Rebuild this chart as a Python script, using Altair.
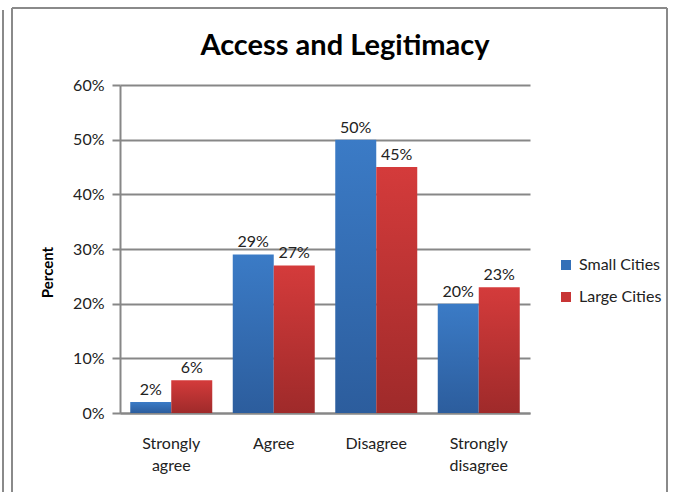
import altair as alt
import pandas as pd

# Survey responses by city size
categories = ["Strongly agree", "Agree", "Disagree", "Strongly disagree"]
series = ["Small Cities", "Large Cities"]
small_cities = [2, 29, 50, 20]
large_cities = [6, 27, 45, 23]
y_ticks = [0, 0.1, 0.2, 0.3, 0.4, 0.5, 0.6]
chart_title = "Access and Legitimacy"

rows = []
for cat, s, l in zip(categories, small_cities, large_cities):
    rows.append({"category": cat, "series": "Small Cities", "value": s / 100})
    rows.append({"category": cat, "series": "Large Cities", "value": l / 100})
df = pd.DataFrame(rows)

FONT = "Lato"
GRAY = "#878787"
TEXT = "#222222"
FS = 16

blue_fill = {
    "gradient": "linear", "x1": 0, "y1": 0, "x2": 0, "y2": 1,
    "stops": [{"offset": 0, "color": "#3b7bc6"}, {"offset": 1, "color": "#2c5d9d"}],
}
red_fill = {
    "gradient": "linear", "x1": 0, "y1": 0, "x2": 0, "y2": 1,
    "stops": [{"offset": 0, "color": "#d43b3b"}, {"offset": 1, "color": "#9f2a2a"}],
}

base = alt.Chart(df).encode(
    x=alt.X(
        "category:N",
        sort=categories,
        scale=alt.Scale(paddingInner=0.2, paddingOuter=0.1),
        axis=alt.Axis(
            title=None, labelAngle=0, ticks=False, grid=False,
            labelExpr="split(datum.label, ' ')",
            labelPadding=22, labelLineHeight=22,
        ),
    ),
    xOffset=alt.XOffset("series:N", sort=series,
                        scale=alt.Scale(paddingInner=0, paddingOuter=0)),
    y=alt.Y(
        "value:Q",
        scale=alt.Scale(domain=[0, 0.6], nice=False),
        axis=alt.Axis(
            title="Percent", format=".0%", values=y_ticks,
            grid=True, tickSize=8, labelPadding=8,
            titleX=-73, titleY=187, titleBaseline="middle",
            titleFontWeight="bold", titleFontSize=15,
        ),
    ),
)

small_bars = base.transform_filter(alt.datum.series == "Small Cities").mark_bar(color=blue_fill)
large_bars = base.transform_filter(alt.datum.series == "Large Cities").mark_bar(color=red_fill)

legend_layer = base.mark_bar(opacity=0).encode(
    color=alt.Color(
        "series:N",
        sort=series,
        scale=alt.Scale(domain=series, range=["#3470b8", "#c83535"]),
        legend=alt.Legend(
            title=None, orient="none", legendX=438, legendY=172,
            symbolType="square", symbolSize=100, symbolOpacity=1,
            symbolStrokeWidth=0, labelFontSize=FS, labelFont=FONT,
            labelColor=TEXT, rowPadding=16, labelOffset=5,
        ),
    )
)

labels = base.mark_text(
    baseline="bottom", dy=-4, fontSize=FS, font=FONT, color=TEXT
).encode(text=alt.Text("value:Q", format=".0%"))

# Chart frame lines and heading
frame_df = pd.DataFrame({"k": [0]})
frame = alt.Chart(frame_df)
frame_color = "#8a8a8a"
left_edge = frame.mark_rule(color=frame_color, strokeWidth=2).encode(
    x=alt.value(-108), y=alt.value(-77), y2=alt.value(407))
outer_edge = frame.mark_rule(color=frame_color, strokeWidth=2).encode(
    x=alt.value(-117), y=alt.value(-75), y2=alt.value(407))
top_edge = frame.mark_rule(color=frame_color, strokeWidth=2).encode(
    x=alt.value(-108), x2=alt.value(547), y=alt.value(-77))
right_edge = frame.mark_rule(color=frame_color, strokeWidth=2).encode(
    x=alt.value(547), y=alt.value(-77), y2=alt.value(407))

heading = frame.mark_text(
    fontSize=29, font=FONT, fontWeight="bold", color="#000000",
    align="center", baseline="alphabetic",
).encode(x=alt.value(225), y=alt.value(-30), text=alt.value(chart_title))

chart = alt.layer(
    small_bars, large_bars, legend_layer, labels,
    left_edge, outer_edge, top_edge, right_edge, heading,
).properties(
    width=410,
    height=328,
    padding={"left": 120, "top": 85, "right": 149, "bottom": 79},
    autosize=alt.AutoSizeParams(type="none"),
    background="white",
).configure_view(
    stroke=None
).configure_axis(
    labelFont=FONT, titleFont=FONT, labelFontSize=FS, labelColor=TEXT,
    titleColor="#000000", domainColor=GRAY, domainWidth=2,
    gridColor=GRAY, gridWidth=2, tickColor=GRAY, tickWidth=2,
)

chart.save("out.html", embed_options={"renderer": "svg", "actions": False})
